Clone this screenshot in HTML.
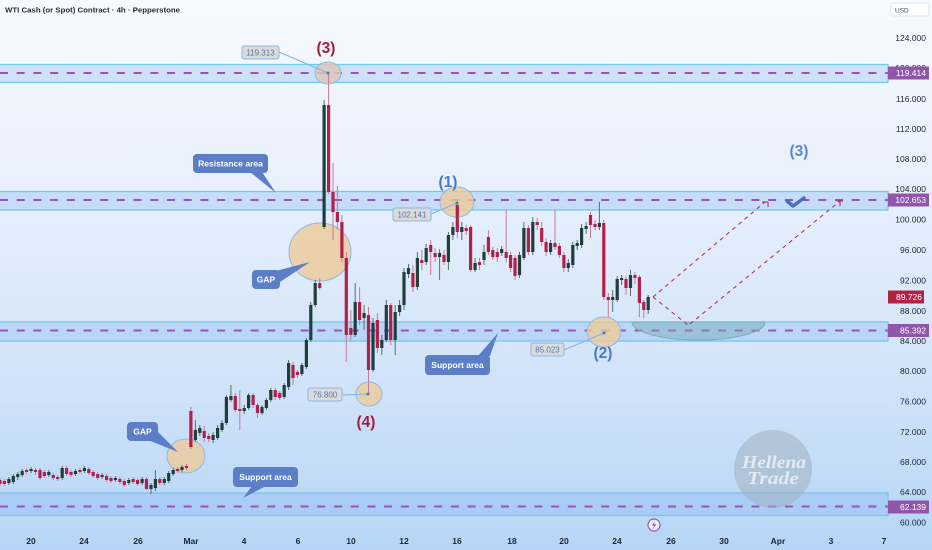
<!DOCTYPE html>
<html><head><meta charset="utf-8"><style>
html,body{margin:0;padding:0;width:932px;height:550px;overflow:hidden;background:#dfeafa}
svg{display:block}
text{font-family:"Liberation Sans",sans-serif}
text.serif{font-family:"Liberation Serif",serif}
</style></head><body>
<svg width="932" height="550" viewBox="0 0 932 550" xmlns="http://www.w3.org/2000/svg">
<defs>
<linearGradient id="bg" x1="0" y1="0" x2="0" y2="1">
<stop offset="0" stop-color="#f7fafe"/>
<stop offset="0.35" stop-color="#e8f0fc"/>
<stop offset="0.7" stop-color="#d0e3f9"/>
<stop offset="1" stop-color="#b6d5f6"/>
</linearGradient>
</defs>
<rect width="932" height="550" fill="url(#bg)"/>

<!-- bands -->
<g fill="rgba(123,175,243,0.3)" stroke="#74c8ec" stroke-width="1.3">
<rect x="-2" y="64.5" width="890" height="18"/>
<rect x="-2" y="191.5" width="890" height="18.5"/>
<rect x="-2" y="322" width="890" height="19"/>
<rect x="-2" y="493" width="890" height="22.5"/>
</g>
<g stroke="#9557b3" stroke-width="2" stroke-dasharray="8 8.7">
<line x1="0" y1="73" x2="888" y2="73"/>
<line x1="0" y1="200" x2="888" y2="200"/>
<line x1="0" y1="330.5" x2="888" y2="330.5"/>
<line x1="0" y1="506.5" x2="888" y2="506.5"/>
</g>

<!-- ellipses -->
<g fill="rgba(236,202,152,0.8)" stroke="#8cbbe8" stroke-width="1">
<ellipse cx="328" cy="73" rx="13" ry="11" fill="rgba(220,200,185,0.85)"/>
<ellipse cx="320" cy="252" rx="31" ry="29"/>
<ellipse cx="186" cy="456" rx="19" ry="17"/>
<ellipse cx="457" cy="202" rx="17" ry="15"/>
<ellipse cx="604" cy="332" rx="17" ry="15"/>
<ellipse cx="369" cy="394" rx="13" ry="12"/>
</g>

<!-- bowl -->
<path d="M632 322 A66.5 18 0 0 0 765 322 Z" fill="rgba(120,170,180,0.45)" stroke="#7aaebb" stroke-width="1"/>

<!-- candles wicks -->
<path fill="none" stroke="#55706f" stroke-width="1" d="M8.9 477V485M13.3 474V484M17.8 472V480M22.2 469V477M31.1 467V473M48.8 470V477M62.2 466V480M75.5 469V476M84.4 466V473M102.1 473V479M115.4 476V482M128.8 478V485M142.1 477V485M151 483V494M155.4 470V491M164.3 477V485M168.7 471V483M173.2 468V476M182 465V472M195.4 420V442M199.8 425V436M213.1 432V443M217.6 425V440M222 420V432M226.4 395V425M230.9 385V402M244.2 405V414M248.6 393V410M262 405V415M266.4 398V410M270.8 388V402M284.2 383V399M288.6 360V390M301.9 363V376M306.4 338V369M310.8 302V342M315.2 280V307M324.1 100V229M355.2 283V337M364.1 305V330M373 318V372M381.8 335V355M386.3 300V342M395.2 305V355M399.6 300V316M404 268V310M408.5 264V278M417.4 252V290M426.2 244V265M439.6 249V280M448.4 232V270M452.9 222V240M461.8 222V240M475.1 258V272M484 245V265M501.7 246V256M519.5 252V278M523.9 222V260M532.8 217V255M550.6 240V255M568.3 259V272M572.8 242V268M577.2 240V250M581.6 224V248M586.1 222V234M599.4 202V230M612.7 290V312M617.2 276V302M621.6 275V285M630.5 270V296M648.2 295V314"/>
<path fill="none" stroke="#c77a98" stroke-width="1" d="M0 478V486M4.4 479V486M26.6 468V474M35.5 468V475M40 468V480M44.4 470V478M53.3 473V480M57.7 475V481M66.6 466V476M71 470V477M79.9 468V474M88.8 467V475M93.2 470V478M97.7 472V480M106.6 474V482M111 476V483M119.9 477V484M124.3 479V487M133.2 477V484M137.6 478V486M146.5 477V490M159.8 477V485M177.6 467V473M186.5 464V470M190.9 407V449M204.2 426V442M208.7 433V442M235.3 393V412M239.8 390V430M253.1 393V408M257.5 403V418M275.3 388V400M279.7 391V400M293 362V385M297.5 370V378M319.7 278V290M328.6 73V194M333 163V240M337.4 186V230M341.9 215V262M346.3 252V362M350.8 310V340M359.6 287V325M368.5 307V393M377.4 313V353M390.7 303V345M412.9 265V292M421.8 250V270M430.7 240V275M435.1 248V262M444 250V265M457.3 203V238M466.2 225V235M470.6 225V272M479.5 258V270M488.4 230V255M492.8 247V260M497.3 248V262M506.2 210V262M510.6 252V272M515 255V280M528.4 225V255M537.2 218V230M541.7 222V246M546.1 238V256M555 210V250M559.4 243V258M563.9 252V272M590.5 212V238M595 220V230M603.8 220V300M608.3 293V317M626 276V295M634.9 272V284M639.4 275V317M643.8 300V318"/>
<!-- candle bodies -->
<path fill="none" stroke="#1f3e3c" stroke-width="3.2" d="M8.9 479V483M13.3 476V482M17.8 474V477M22.2 471V475M31.1 469V471M48.8 472V475M62.2 468V478M75.5 471V474M84.4 468V471M102.1 475V477M115.4 478V480M128.8 480V483M142.1 479V483M151 485V489M155.4 479V488M164.3 479V483M168.7 473V481M173.2 470V474M182 467V470M195.4 430V440M199.8 428V433M213.1 435V440M217.6 428V438M222 423V430M226.4 397V423M230.9 396V400M244.2 408V411M248.6 395V408M262 407V413M266.4 400V408M270.8 390V400M284.2 385V397M288.6 363V387M301.9 365V374M306.4 340V367M310.8 305V340M315.2 283V305M324.1 105V227M355.2 302V335M364.1 313V318M373 323V370M381.8 340V348M386.3 305V340M395.2 312V340M399.6 305V312M404 272V305M408.5 268V274M417.4 258V287M426.2 248V262M439.6 253V257M448.4 235V262M452.9 227V235M461.8 227V232M475.1 263V270M484 252V260M501.7 249V253M519.5 255V275M523.9 228V258M532.8 222V252M550.6 243V252M568.3 263V268M572.8 245V265M577.2 243V246M581.6 228V245M586.1 226V229M599.4 223V227M612.7 297V300M617.2 279V300M621.6 278V280M630.5 275V288M648.2 297V310"/>
<path fill="none" stroke="#b31f4a" stroke-width="3.2" d="M0 480V484M4.4 481V484M26.6 470V472M35.5 470V472M40 470V478M44.4 472V476M53.3 475V478M57.7 477V479M66.6 468V474M71 472V475M79.9 470V472M88.8 469V473M93.2 472V476M97.7 474V478M106.6 476V480M111 478V481M119.9 479V482M124.3 481V485M133.2 479V482M137.6 480V484M146.5 479V489M159.8 479V483M177.6 469V471M186.5 466V468M190.9 411V447M204.2 431V438M208.7 436V439M235.3 396V410M239.8 409V411M253.1 395V405M257.5 405V413M275.3 390V397M279.7 393V398M293 365V378M297.5 372V375M319.7 283V288M328.6 105V192M333 192V212M337.4 212V222M341.9 222V258M346.3 258V335M350.8 328V335M359.6 302V320M368.5 315V370M377.4 320V348M390.7 305V340M412.9 273V287M421.8 260V263M430.7 245V252M435.1 253V257M444 255V262M457.3 205V232M466.2 228V231M470.6 227V270M479.5 262V265M488.4 237V252M492.8 250V257M497.3 252V257M506.2 252V258M510.6 255V268M515 258V276M528.4 228V252M537.2 222V225M541.7 228V242M546.1 242V252M555 243V247M559.4 246V255M563.9 255V268M590.5 215V225M595 224V227M603.8 223V297M608.3 297V300M626 279V288M634.9 275V278M639.4 277V303M643.8 302V310"/>

<!-- projection lines -->
<g stroke="#b5234a" stroke-width="1" stroke-dasharray="4 4" fill="none">
<line x1="653" y1="297" x2="765" y2="202"/>
<line x1="653" y1="297" x2="688" y2="325"/>
<line x1="690" y1="324" x2="840" y2="201"/>
</g>
<g stroke="#b5234a" stroke-width="1" fill="none">
<path d="M762 202 h6 M768 202 v5"/>
<path d="M837 201 h6 M840 201 v5"/>
</g>
<path d="M787 201 L793 206 L804 198" fill="none" stroke="#4a70c4" stroke-width="3.5" stroke-linecap="round" stroke-linejoin="round"/>

<!-- price labels with leader lines -->
<g stroke="#7fb2e8" stroke-width="1">
<line x1="279" y1="52" x2="328" y2="73"/>
<line x1="431" y1="214" x2="457" y2="203"/>
<line x1="342" y1="395" x2="368" y2="394"/>
<line x1="564" y1="350" x2="604" y2="333"/>
</g>
<g fill="#4a7cc8">
<circle cx="328" cy="73" r="1.5"/><circle cx="457" cy="203" r="1.5"/><circle cx="368" cy="394" r="1.5"/><circle cx="604" cy="333" r="1.5"/>
</g>
<g fill="#ddd9d6" stroke="#8ab8e8" stroke-width="1">
<rect x="242" y="46" width="37" height="13" rx="2"/>
<rect x="393" y="208" width="38" height="13" rx="2"/>
<rect x="308" y="388" width="34" height="13" rx="2"/>
<rect x="531" y="343" width="33" height="13" rx="2"/>
</g>
<g fill="#4a7cc0" font-size="8" text-anchor="middle">
<text x="260.5" y="55.5">119.313</text>
<text x="412" y="217.5">102.141</text>
<text x="325" y="397.5">76.800</text>
<text x="547.5" y="352.5">85.023</text>
</g>

<!-- wave numbers -->
<g font-weight="bold" font-size="15.5" text-anchor="middle">
<text x="326" y="53" fill="#a31d3f">(3)</text>
<text x="366" y="427" fill="#a31d3f">(4)</text>
<text x="448" y="187" fill="#4a78c8">(1)</text>
<text x="603" y="358" fill="#4a78c8">(2)</text>
<text x="799" y="156" fill="#5a88d0">(3)</text>
</g>

<!-- callouts -->
<g fill="#5b7ec6">
<rect x="193" y="154" width="75" height="19" rx="4"/><polygon points="250,172 262,172 276,193"/>
<rect x="252" y="270" width="28" height="19" rx="4"/><polygon points="272,272 280,282 310,262"/>
<rect x="127" y="422" width="31" height="19" rx="4"/><polygon points="148,440 158,432 178,452"/>
<rect x="233" y="467" width="65" height="20" rx="4"/><polygon points="252,486 266,486 243,498"/>
<rect x="425" y="355" width="65" height="20" rx="4"/><polygon points="478,356 490,356 498,333"/>
</g>
<g fill="#ffffff" font-size="8.5" font-weight="bold" text-anchor="middle">
<text x="230.5" y="166.5">Resistance area</text>
<text x="266" y="282.5">GAP</text>
<text x="142.5" y="434.5">GAP</text>
<text x="265.5" y="480">Support area</text>
<text x="457.5" y="368">Support area</text>
</g>

<!-- watermark -->
<circle cx="773" cy="469" r="39" fill="rgba(160,176,192,0.55)"/>
<g font-style="italic" font-weight="bold" font-size="18" fill="rgba(236,241,249,0.85)" text-anchor="middle">
<text class="serif" x="774" y="468" textLength="64" lengthAdjust="spacingAndGlyphs">Hellena</text>
<text class="serif" x="773" y="484" textLength="52" lengthAdjust="spacingAndGlyphs">Trade</text>
</g>

<!-- lightning icon -->
<circle cx="654" cy="525" r="6" fill="#eef3fb" stroke="#9a52b5" stroke-width="1.2"/>
<path d="M655.5 520.5 L651.8 525.6 H654.3 L652.6 529.5 L656.3 524.3 H653.8 Z" fill="#9a52b5"/>

<!-- title -->
<text x="5" y="12.5" font-size="7.5" font-weight="bold" fill="#1f2a3d" textLength="175" lengthAdjust="spacingAndGlyphs">WTI Cash (or Spot) Contract · 4h · Pepperstone</text>

<!-- USD box -->
<rect x="891" y="3" width="38" height="13" rx="2" fill="#ffffff" stroke="#dde6f2" stroke-width="1"/>
<text x="895" y="12.5" font-size="6.5" fill="#3a4a6a">USD</text>

<!-- price axis labels -->
<g font-size="8.5" fill="#1c2636" text-anchor="end">
<text x="926" y="41">124.000</text>
<text x="926" y="71">120.000</text>
<text x="926" y="102">116.000</text>
<text x="926" y="132">112.000</text>
<text x="926" y="162">108.000</text>
<text x="926" y="192">104.000</text>
<text x="926" y="222.5">100.000</text>
<text x="926" y="253">96.000</text>
<text x="926" y="283.5">92.000</text>
<text x="926" y="314">88.000</text>
<text x="926" y="344">84.000</text>
<text x="926" y="374">80.000</text>
<text x="926" y="404.5">76.000</text>
<text x="926" y="435">72.000</text>
<text x="926" y="465">68.000</text>
<text x="926" y="495">64.000</text>
<text x="926" y="525.5">60.000</text>
</g>
<!-- badges -->
<g fill="#9156ac">
<rect x="888" y="66.5" width="41" height="13"/>
<rect x="888" y="193.5" width="41" height="13"/>
<rect x="888" y="324" width="41" height="13"/>
<rect x="888" y="500.5" width="41" height="13"/>
</g>
<rect x="888" y="290.5" width="36" height="13" fill="#b22246"/>
<g font-size="8.5" fill="#ffffff" text-anchor="end">
<text x="926" y="76">119.414</text>
<text x="926" y="203">102.653</text>
<text x="922" y="300">89.726</text>
<text x="926" y="333.5">85.392</text>
<text x="926" y="510">62.139</text>
</g>

<!-- date axis -->
<g font-size="8.5" font-weight="bold" fill="#1c2636" text-anchor="middle">
<text x="31" y="544">20</text>
<text x="84" y="544">24</text>
<text x="138" y="544">26</text>
<text x="191" y="544">Mar</text>
<text x="244" y="544">4</text>
<text x="298" y="544">6</text>
<text x="351" y="544">10</text>
<text x="404" y="544">12</text>
<text x="457" y="544">16</text>
<text x="512" y="544">18</text>
<text x="564" y="544">20</text>
<text x="617" y="544">24</text>
<text x="671" y="544">26</text>
<text x="724" y="544">30</text>
<text x="778" y="544">Apr</text>
<text x="831" y="544">3</text>
<text x="884" y="544">7</text>
</g>
</svg>
</body></html>
